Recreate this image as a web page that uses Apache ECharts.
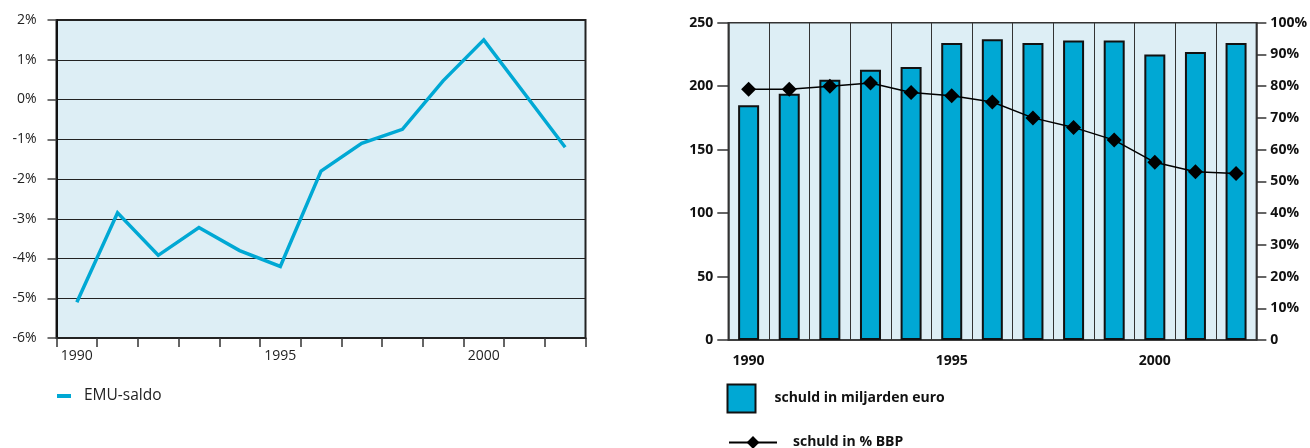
<!DOCTYPE html>
<html>
<head>
<meta charset="utf-8">
<script src="https://cdn.jsdelivr.net/npm/echarts@6/dist/echarts.min.js"></script>
<style>
  html, body { margin: 0; padding: 0; background: #fff; }
  #chart { width: 1310px; height: 448px; }
</style>
</head>
<body>
<div id="chart"></div>
<script>
// Years shared by both panels
const years = ['1990','1991','1992','1993','1994','1995','1996','1997','1998','1999','2000','2001','2002'];
// Left panel: EMU balance, % of GDP
const emuSaldo = [-5.1, -2.85, -3.92, -3.22, -3.8, -4.2, -1.8, -1.1, -0.75, 0.47, 1.5, 0.15, -1.2];
// Right panel: debt in billions of euro, and debt as % of GDP
const schuldMiljard = [185, 194, 205, 213, 215, 234, 237, 234, 236, 236, 225, 227, 234];
const schuldPctBbp = [79, 79, 80, 81, 78, 77, 75, 70, 67, 63, 56, 53, 52.5];

const FONT = '"Open Sans", "Liberation Sans", Arial, sans-serif';
const BG = '#ddeef5';
const BLUE = '#00a8d4';

const chart = echarts.init(document.getElementById('chart'), null, { renderer: 'canvas' });

const showEvery5 = (i) => i % 5 === 0;

chart.setOption({
  animation: false,
  textStyle: { fontFamily: FONT },
  grid: [
    { left: 56.5, top: 20, width: 529, height: 318, show: true, backgroundColor: BG,
      borderColor: '#222', borderWidth: 2 },
    { left: 728.3, top: 22.7, width: 529.4, height: 317.3, show: true, backgroundColor: BG,
      borderColor: '#333', borderWidth: 1.5 }
  ],
  legend: [
    { left: 52, top: 383, itemWidth: 14, itemHeight: 4, icon: 'rect', itemGap: 0,
      data: [{ name: 'EMU-saldo' }],
      textStyle: { fontFamily: FONT, fontSize: 15.5, color: '#222', padding: [0, 0, 0, 8] } },
    { left: 721.5, top: 378.5, itemWidth: 28, itemHeight: 28,
      data: [{ name: 'schuld in miljarden euro', icon: 'rect' }],
      itemStyle: { borderColor: '#111', borderWidth: 2 },
      textStyle: { fontFamily: FONT, fontSize: 14, fontWeight: 'bold', color: '#111', padding: [0, 0, 0, 14] } },
    { left: 723, top: 430.5, itemWidth: 48, itemHeight: 16,
      data: [{ name: 'schuld in % BBP' }],
      textStyle: { fontFamily: FONT, fontSize: 14, fontWeight: 'bold', color: '#111', padding: [0, 0, 0, 11] } }
  ],
  xAxis: [
    { gridIndex: 0, type: 'category', data: years, boundaryGap: true,
      axisLine: { onZero: false, lineStyle: { color: '#222', width: 2 } },
      axisTick: { show: true, interval: 0, length: 9, lineStyle: { color: '#333', width: 1.5 } },
      axisLabel: { interval: showEvery5, margin: 11, fontSize: 14, color: '#222', fontFamily: FONT },
      splitLine: { show: false } },
    { gridIndex: 1, type: 'category', data: years, boundaryGap: true,
      axisLine: { onZero: false, lineStyle: { color: '#333', width: 1.5 } },
      axisTick: { show: false },
      axisLabel: { interval: showEvery5, margin: 14, fontSize: 14, fontWeight: 'bold', color: '#111', fontFamily: FONT },
      splitLine: { show: true, interval: 0, lineStyle: { color: '#333', width: 1 } } }
  ],
  yAxis: [
    { gridIndex: 0, type: 'value', min: -6, max: 2, interval: 1,
      axisLine: { show: true, lineStyle: { color: '#111', width: 2 } },
      axisTick: { show: true, length: 9, lineStyle: { color: '#444', width: 1.5 } },
      axisLabel: { margin: 20, fontSize: 14, color: '#222', fontFamily: FONT, formatter: '{value}%' },
      splitLine: { show: true, lineStyle: { color: '#222', width: 1 } } },
    { gridIndex: 1, type: 'value', min: 0, max: 250, interval: 50, position: 'left',
      axisLine: { show: true, lineStyle: { color: '#333', width: 1.5 } },
      axisTick: { show: true, length: 11, lineStyle: { color: '#333', width: 1.5 } },
      axisLabel: { margin: 15, fontSize: 14, fontWeight: 'bold', color: '#111', fontFamily: FONT },
      splitLine: { show: false } },
    { gridIndex: 1, type: 'value', min: 0, max: 100, interval: 10, position: 'right',
      axisLine: { show: true, lineStyle: { color: '#333', width: 1.5 } },
      axisTick: { show: true, length: 10, lineStyle: { color: '#333', width: 1.5 } },
      axisLabel: { margin: 14, fontSize: 14, fontWeight: 'bold', color: '#111', fontFamily: FONT,
        formatter: (v) => v === 0 ? '0' : v + '%' },
      splitLine: { show: false } }
  ],
  series: [
    { name: 'EMU-saldo', type: 'line', xAxisIndex: 0, yAxisIndex: 0, data: emuSaldo,
      symbol: 'none', color: BLUE, lineStyle: { color: BLUE, width: 3.5, join: 'miter' } },
    { name: 'schuld in miljarden euro', type: 'bar', xAxisIndex: 1, yAxisIndex: 1, data: schuldMiljard,
      barWidth: 21, color: BLUE,
      itemStyle: { color: BLUE, borderColor: '#111', borderWidth: 2 } },
    { name: 'schuld in % BBP', type: 'line', xAxisIndex: 1, yAxisIndex: 2, data: schuldPctBbp,
      symbol: 'diamond', symbolSize: 15, color: '#000',
      itemStyle: { color: '#000' }, lineStyle: { color: '#000', width: 1.5 }, z: 5 }
  ]
});
</script>
</body>
</html>
